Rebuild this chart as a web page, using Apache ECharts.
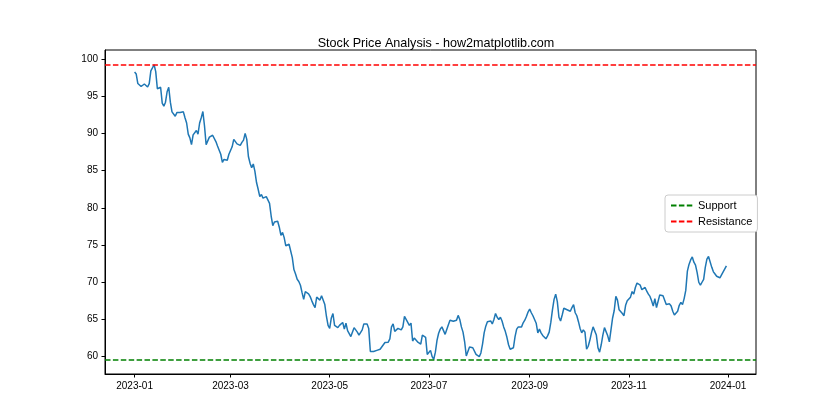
<!DOCTYPE html>
<html>
<head>
<meta charset="utf-8">
<script src="https://cdn.jsdelivr.net/npm/echarts@6/dist/echarts.min.js"></script>
<style>html,body{margin:0;padding:0;background:#fff}#chart{width:840px;height:420px}</style>
</head>
<body>
<div id="chart"></div>
<script>
// ---- data (daily closing prices) ----
const startDate = '2023-01-01';
const q1Prices = [
  98.25, 97.98, 96.7, 96.77, 96.3, 96.4, 96.64, 96.8, 96.24, 96.7,
  98.4, 98.5, 99.23, 98.3, 96.0, 96.1, 96.2, 94.08, 93.65, 94.2,
  95.6, 96.2, 94.2, 92.9, 92.8, 92.3, 92.8, 92.6, 92.8, 93.0,
  92.9, 92.1, 91.4, 89.9, 89.4, 88.5, 89.8, 89.85, 90.4, 89.9,
  91.4, 92.1, 92.95, 91.0, 88.5, 88.5, 89.5, 89.7, 89.75, 90.0,
  88.9, 88.3, 88.3, 87.2, 86.1, 86.5, 86.5, 86.4, 87.2, 87.4,
  88.2, 89.2, 89.3, 88.6, 88.7, 88.4, 88.8, 89.1, 90.0, 89.2,
  86.9, 86.0, 85.4, 85.9, 84.9, 83.4, 82.5, 81.5, 81.8, 81.3,
  81.1, 81.5, 81.75, 80.6, 78.9, 77.6, 78.1, 77.9, 78.2, 77.4
];
const q2Prices = [
  76.3, 76.7, 76.0, 74.9, 74.8, 75.1, 74.9, 73.3, 71.7, 71.1,
  70.4, 70.1, 69.6, 68.6, 67.7, 68.75, 68.5, 68.45, 68.07, 67.5,
  67.0, 66.6, 68.0, 67.85, 67.6, 68.2, 68.4, 67.0, 65.4, 64.2,
  63.8, 65.2, 65.8, 64.2, 64.4, 63.9, 64.2, 64.4, 64.6, 63.7,
  64.5, 63.5, 63.3, 62.7, 62.5, 63.9, 63.8, 63.3, 62.9, 62.8,
  63.6, 64.4, 64.4, 64.4, 63.8, 60.7, 60.6, 60.7, 60.8, 60.85,
  60.95, 61.0, 60.8, 61.6, 61.9, 62.0, 61.95, 62.4, 64.0, 64.4,
  63.4, 63.4, 63.8, 63.6, 63.6, 64.0, 65.4, 65.0, 64.8, 64.2,
  64.5, 62.1, 62.5, 62.4, 62.0, 61.9, 61.7, 62.9, 63.0, 62.6,
  60.3
];
const q3Prices = [
  60.3, 60.85, 60.0, 59.65, 60.6, 62.2, 63.15, 63.7, 64.0,
  63.9, 63.0, 62.9, 64.3, 64.9, 64.8, 64.75, 64.9, 64.9, 65.55,
  65.0, 64.0, 63.3, 62.0, 60.1, 60.3, 61.3, 61.35, 61.2, 61.1,
  60.3, 60.4, 60.0, 60.5, 61.7, 63.2, 64.1, 64.7, 64.8, 64.8,
  64.4, 65.0, 65.8, 65.3, 65.0, 65.3, 64.8, 64.0, 63.4, 62.6,
  61.6, 61.0, 61.05, 61.2, 62.7, 63.7, 64.0, 63.9, 64.0, 64.55,
  64.9, 65.4, 66.0, 66.4, 65.9, 65.5, 65.5, 64.5, 63.2, 63.7,
  63.2, 62.85, 62.6, 62.4, 62.8, 63.3, 64.6, 66.3, 67.7, 68.4,
  67.4, 65.3, 64.8, 65.6, 66.5, 66.4, 66.3, 66.15, 66.1, 66.6,
  67.0, 65.9, 65.5
];
const q4Prices = [
  64.7, 63.8, 63.2, 63.6, 63.3, 61.0, 61.4,
  62.2, 63.2, 64.0, 64.0, 62.9, 61.2, 60.6, 61.6, 62.9, 63.9,
  64.0, 62.8, 62.0, 63.6, 65.2, 66.2, 68.1, 67.6, 66.3, 66.2,
  65.8, 65.5, 66.9, 67.5, 67.55, 68.0, 68.75, 68.4, 69.3, 69.9,
  70.1, 69.6, 69.0, 69.2, 69.3, 68.8, 68.4, 68.1, 67.5, 66.8,
  67.8, 66.6, 66.7, 68.3, 68.2, 68.2, 68.2, 67.0, 67.1, 67.1,
  66.8, 66.1, 65.6, 65.6, 66.1, 66.9, 67.3, 67.0, 67.8, 68.9,
  71.5, 72.4, 73.0, 73.4, 72.7, 72.3, 71.3, 70.0, 69.6, 70.0,
  70.4, 72.0, 73.1, 73.46, 73.45, 72.0, 71.4, 71.1, 70.8, 70.9,
  70.6, 71.0, 71.2, 71.8, 72.2
];
const xTickDates = ['2023-01-01', '2023-03-01', '2023-05-01', '2023-07-01', '2023-09-01', '2023-11-01', '2024-01-01'];
const xTickLabels = ['2023-01', '2023-03', '2023-05', '2023-07', '2023-09', '2023-11', '2024-01'];
const yTicks = [60, 65, 70, 75, 80, 85, 90, 95, 100];
const titleText = 'Stock Price Analysis - how2matplotlib.com';

// ---- build ----
const DAY = 86400000;
const t0 = Date.parse(startDate);
const prices = [].concat(q1Prices, q2Prices, q3Prices, q4Prices);
const lineData = prices.map((v, i) => [t0 + i * DAY, v]);
const support = Math.min.apply(null, prices);
const resistance = Math.max.apply(null, prices);
const tFirst = lineData[0][0], tLast = lineData[lineData.length - 1][0];
const xPad = (tLast - tFirst) * 0.05;
const yPad = (resistance - support) * 0.05;
const xTickValues = xTickDates.map(d => Date.parse(d));
const labelFor = v => { const i = xTickValues.indexOf(v); return i >= 0 ? xTickLabels[i] : ''; };

const FONT = 'Liberation Sans';
const chart = echarts.init(document.getElementById('chart'), null, {renderer: 'canvas'});
chart.setOption({
  animation: false,
  backgroundColor: '#ffffff',
  textStyle: {fontFamily: FONT},
  title: {
    text: titleText,
    left: 431, top: 32, textAlign: 'center',
    textStyle: {fontFamily: FONT, fontSize: 12.6, fontWeight: 'normal', color: '#000'}
  },
  grid: {left: 105, right: 84, top: 50, bottom: 46, show: true, borderColor: '#000', borderWidth: 1, backgroundColor: 'transparent'},
  legend: {
    data: ['Support', 'Resistance'],
    orient: 'vertical',
    left: 665, top: 195,
    backgroundColor: '#fff',
    borderColor: '#cccccc', borderWidth: 1, borderRadius: 3,
    padding: [5, 5, 5, 5],
    itemWidth: 22, itemHeight: 10, itemGap: 5,
    itemStyle: {opacity: 0},
    textStyle: {fontFamily: FONT, fontSize: 11, color: '#000'}
  },
  xAxis: {
    type: 'value',
    min: tFirst - xPad, max: tLast + xPad,
    axisLine: {show: true, lineStyle: {color: '#000', width: 1}},
    axisTick: {show: true, length: 3.5, lineStyle: {color: '#000'}, customValues: xTickValues},
    axisLabel: {customValues: xTickValues, formatter: labelFor, color: '#000', fontSize: 10, fontFamily: FONT, margin: 7},
    splitLine: {show: false}
  },
  yAxis: {
    type: 'value',
    min: support - yPad, max: resistance + yPad,
    axisLine: {show: true, lineStyle: {color: '#000', width: 1}},
    axisTick: {show: true, length: 3.5, lineStyle: {color: '#000'}, customValues: yTicks},
    axisLabel: {customValues: yTicks, color: '#000', fontSize: 10, fontFamily: FONT, margin: 7},
    splitLine: {show: false}
  },
  series: [
    {
      name: 'Price', type: 'line', data: lineData,
      symbol: 'none', showSymbol: false,
      lineStyle: {color: '#1f77b4', width: 1.5},
      itemStyle: {color: '#1f77b4'}, z: 3
    },
    {
      name: 'Support', type: 'line', data: [], symbol: 'none',
      lineStyle: {color: '#008000', width: 1.5, type: [5.5, 2.4]},
      itemStyle: {color: '#008000'},
      markLine: {
        silent: true, symbol: ['none', 'none'], label: {show: false},
        lineStyle: {color: '#008000', width: 1.5, type: [5.5, 2.4]},
        emphasis: {disabled: true},
        data: [{yAxis: support}]
      }
    },
    {
      name: 'Resistance', type: 'line', data: [], symbol: 'none',
      lineStyle: {color: '#ff0000', width: 1.5, type: [5.5, 2.4]},
      itemStyle: {color: '#ff0000'},
      markLine: {
        silent: true, symbol: ['none', 'none'], label: {show: false},
        lineStyle: {color: '#ff0000', width: 1.5, type: [5.5, 2.4]},
        emphasis: {disabled: true},
        data: [{yAxis: resistance}]
      }
    }
  ]
});
</script>
</body>
</html>
